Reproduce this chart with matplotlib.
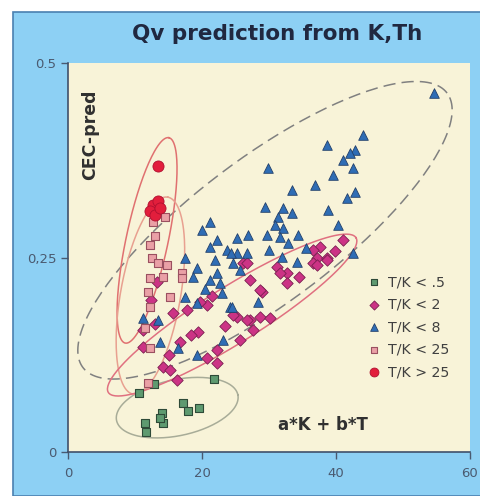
import numpy as np
import matplotlib.pyplot as plt
from matplotlib.patches import Rectangle

# data
tk05_x = [10.6, 12.8, 21.8, 17.2, 17.9, 19.6, 14.0, 14.2, 11.5, 11.6, 13.7]
tk05_y = [0.076, 0.087, 0.094, 0.063, 0.053, 0.057, 0.050, 0.037, 0.037, 0.026, 0.044]

tk2_x = [37.6, 41.0, 37.2, 38.6, 36.6, 31.2, 32.7, 26.1, 31.6, 32.7, 29.0, 27.2, 37.2,
         25.2, 27.2, 28.7, 30.1, 27.6, 25.7, 19.4, 20.7, 22.2, 20.7, 22.2, 14.2, 15.2,
         16.3, 11.2, 11.2, 16.7, 15.7, 17.8, 19.7, 24.6, 26.7, 13.3, 36.6, 38.6, 26.7,
         28.7, 12.4, 13.0, 23.5, 18.3, 21.5, 34.5, 39.8, 15.0]
tk2_y = [0.263, 0.272, 0.250, 0.249, 0.243, 0.238, 0.230, 0.243, 0.230, 0.217, 0.206,
         0.221, 0.240, 0.174, 0.170, 0.174, 0.172, 0.157, 0.144, 0.154, 0.189, 0.131,
         0.121, 0.114, 0.109, 0.105, 0.093, 0.135, 0.157, 0.141, 0.179, 0.183, 0.193,
         0.176, 0.170, 0.219, 0.260, 0.247, 0.243, 0.208, 0.195, 0.165, 0.162, 0.150,
         0.200, 0.225, 0.258, 0.125]

tk8_x = [44.0, 38.6, 42.8, 42.1, 41.0, 42.5, 39.6, 29.9, 36.9, 33.4, 42.8, 41.6, 38.8,
         29.4, 32.1, 33.4, 31.3, 40.3, 30.9, 32.1, 29.7, 34.3, 26.9, 25.2, 31.6, 32.8,
         42.5, 34.2, 31.9, 25.2, 26.7, 54.6, 21.2, 20.0, 22.2, 21.2, 23.7, 24.3, 17.5,
         21.9, 24.6, 19.3, 22.2, 18.7, 21.2, 22.7, 17.5, 19.3, 13.4, 24.2, 23.1, 13.7,
         16.4, 19.3, 11.2, 25.7, 28.4, 24.5, 35.5, 30.0, 23.0, 20.5]
tk8_y = [0.407, 0.395, 0.388, 0.384, 0.375, 0.365, 0.356, 0.365, 0.343, 0.337, 0.334,
         0.326, 0.311, 0.315, 0.314, 0.307, 0.302, 0.292, 0.292, 0.288, 0.279, 0.279,
         0.279, 0.275, 0.276, 0.269, 0.256, 0.244, 0.251, 0.256, 0.256, 0.461, 0.296,
         0.285, 0.272, 0.263, 0.260, 0.256, 0.249, 0.247, 0.243, 0.236, 0.230, 0.225,
         0.221, 0.217, 0.199, 0.191, 0.170, 0.186, 0.144, 0.141, 0.134, 0.125, 0.172,
         0.234, 0.193, 0.186, 0.262, 0.260, 0.205, 0.210]

tk25_x = [14.5, 12.7, 12.2, 12.5, 13.4, 17.0, 12.2, 14.2, 11.9, 15.2, 12.2, 12.2, 11.9,
          17.0, 13.0, 14.8, 11.5]
tk25_y = [0.302, 0.296, 0.266, 0.249, 0.243, 0.230, 0.224, 0.225, 0.206, 0.199, 0.186,
          0.134, 0.089, 0.224, 0.278, 0.240, 0.160]

tk_gt25_x = [13.4, 12.7, 13.4, 12.2, 13.0, 13.8]
tk_gt25_y = [0.368, 0.318, 0.322, 0.310, 0.305, 0.313]

# ellipses: center (data), semi axes in pixels, angle deg, colour, style
ellipses = [
    ((29.4, 0.285), 228, 72, 37, '#808080', (0, (8, 4))),
    ((16.3, 0.057), 62, 28, 12, '#a8ac98', '-'),
    ((11.8, 0.272), 105, 21, 78, '#e07070', '-'),
    ((12.3, 0.201), 100, 30, 80, '#e8a090', '-'),
    ((24.5, 0.176), 146, 28, 32, '#e07080', '-'),
]

fig = plt.figure(figsize=(4.81, 4.96), dpi=100, facecolor='white')
fig.patches.append(Rectangle((13 / 481, 0), 1, 484 / 496, transform=fig.transFigure,
                             facecolor='#8dd0f4', edgecolor='#4a80b0', lw=1.2, zorder=-10))

ax = fig.add_axes([68 / 481, 44 / 496, 402 / 481, 389 / 496])
ax.set_facecolor('#f8f3d8')
ax.set_xlim(0, 60)
ax.set_ylim(0, 0.5)

px_x = 402 / 60
px_y = 389 / 0.5
t = np.linspace(0, 2 * np.pi, 200)
for (cx, cy), a, b, ang, col, ls in ellipses:
    th = np.radians(ang)
    dx = a * np.cos(t) * np.cos(th) - b * np.sin(t) * np.sin(th)
    dy = a * np.cos(t) * np.sin(th) + b * np.sin(t) * np.cos(th)
    ax.plot(cx + dx / px_x, cy + dy / px_y, color=col, ls=ls, lw=1.1, zorder=1)

ax.scatter(tk05_x, tk05_y, marker='s', s=36, c='#5e9a70', edgecolors='#2e4a38',
           linewidths=0.8, label='T/K < .5', zorder=3)
ax.scatter(tk2_x, tk2_y, marker='D', s=34, c='#cc3385', edgecolors='#7a2050',
           linewidths=0.6, label='T/K < 2', zorder=3)
ax.scatter(tk8_x, tk8_y, marker='^', s=48, c='#2f6db5', edgecolors='#23406a',
           linewidths=0.6, label='T/K < 8', zorder=3)
ax.scatter(tk25_x, tk25_y, marker='s', s=36, c='#eaa0a6', edgecolors='#9a5060',
           linewidths=0.8, label='T/K < 25', zorder=4)
ax.scatter(tk_gt25_x, tk_gt25_y, marker='o', s=64, c='#e21e3c', edgecolors='#b01030',
           linewidths=0.6, label='T/K > 25', zorder=5)

leg = ax.legend(loc='upper left', bbox_to_anchor=(0.725, 0.455), frameon=False,
                fontsize=10.2, handletextpad=0.0, labelspacing=0.6, markerscale=0.8,
                borderpad=0, borderaxespad=0)
for txt in leg.get_texts():
    txt.set_color('#404040')

ax.text(0.055, 0.815, 'CEC-pred', transform=ax.transAxes, rotation=90, fontsize=12.5,
        fontweight='bold', color='#303030', ha='center', va='center')
ax.text(0.634, 0.069, 'a*K + b*T', transform=ax.transAxes, fontsize=12,
        fontweight='bold', color='#303030', ha='center', va='center')
fig.text(277 / 481, 1 - 34 / 496, 'Qv prediction from K,Th', fontsize=15.5,
         fontweight='bold', color='#202840', ha='center', va='center')

ax.set_xticks([0, 20, 40, 60])
ax.set_yticks([0, 0.25, 0.5])
ax.set_yticklabels(['0', '0,25', '0.5'])
ax.tick_params(colors='#4a5a70', labelsize=9.5, length=5, width=1)
ax.tick_params(axis='x', pad=6)
for s in ['top', 'right']:
    ax.spines[s].set_visible(False)
for s in ['left', 'bottom']:
    ax.spines[s].set_color('#40506a')
    ax.spines[s].set_linewidth(1.2)

fig.savefig('out.png', dpi=100, facecolor=fig.get_facecolor())
